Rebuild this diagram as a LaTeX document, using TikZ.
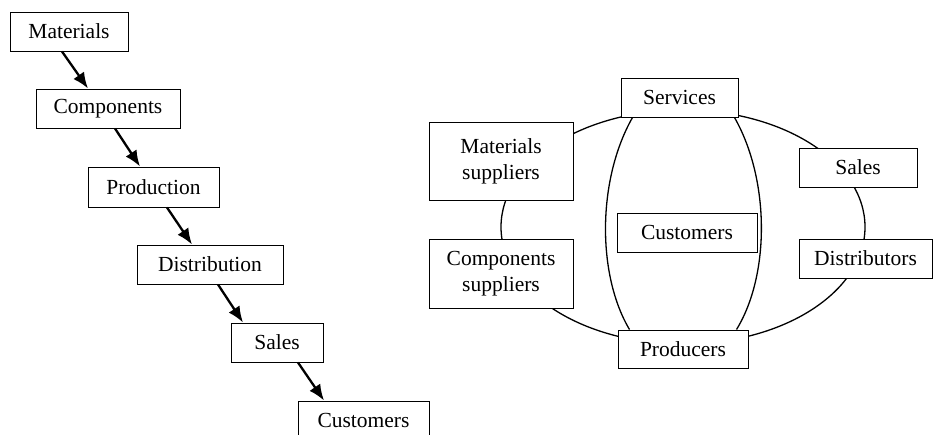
\documentclass[tikz,border=0pt]{standalone}
\usepackage{fontspec}
\setmainfont{Liberation Serif}
\usetikzlibrary{arrows.meta,calc}
\begin{document}
\begin{tikzpicture}[x=1pt,y=-1pt,
  box/.style={draw,line width=1pt,fill=white,inner sep=0pt,align=center,
    font=\fontsize{21.5}{26}\selectfont},
  flow/.style={line width=2.3pt,-{Latex[length=16pt,width=13pt]}},
  ring/.style={line width=1.3pt}]
\clip (0,0) rectangle (933,434);
% left chain
\node[box,minimum width=118pt,minimum height=39pt] (mat) at (69,31.5) {Materials};
\node[box,minimum width=144pt,minimum height=39pt] (comp) at (108,108.5) {Components};
\node[box,minimum width=131pt,minimum height=40pt] (prod) at (153.5,187) {Production};
\node[box,minimum width=146pt,minimum height=39pt] (dist) at (210,264.5) {Distribution};
\node[box,minimum width=92pt,minimum height=39pt] (sal) at (277,342.5) {Sales};
\node[box,minimum width=131pt,minimum height=39pt] (cust) at (363.5,420.5) {Customers};
\draw[flow] ($(mat.south)+(-7,0)$) -- ($(comp.north)+(-20,0)$);
\draw[flow] ($(comp.south)+(7,0)$) -- ($(prod.north)+(-13.5,0)$);
\draw[flow] ($(prod.south)+(13.5,0)$) -- ($(dist.north)+(-18,0)$);
\draw[flow] ($(dist.south)+(8,0)$) -- ($(sal.north)+(-34,0)$);
\draw[flow] ($(sal.south)+(21,0)$) -- ($(cust.north)+(-39.5,0)$);
% right diagram
\draw[ring] (683,227) ellipse [x radius=182pt, y radius=117pt];
\node[box,minimum width=117pt,minimum height=39pt] (serv) at (679.5,97.5) {Services};
\node[box,minimum width=130pt,minimum height=38pt] (prd) at (683,349) {Producers};
\draw[ring] ($(serv.south west)+(12,0)$) .. controls (597,180) and (597,275) .. ($(prd.north west)+(12,0)$);
\draw[ring] ($(serv.south east)+(-4,0)$) .. controls (770,180) and (770,275) .. ($(prd.north east)+(-12,0)$);
\node[box,minimum width=144pt,minimum height=78pt] (msup) at (501,161) {Materials\\suppliers};
\node[box,minimum width=144pt,minimum height=69pt] (csup) at (501,273.5) {Components\\suppliers};
\node[box,minimum width=140pt,minimum height=39pt] (cus2) at (687,232.5) {Customers};
\node[box,minimum width=118pt,minimum height=39pt] (sal2) at (858,167.5) {Sales};
\node[box,minimum width=133pt,minimum height=39pt] (dis2) at (865.5,258.5) {Distributors};
\end{tikzpicture}
\end{document}
